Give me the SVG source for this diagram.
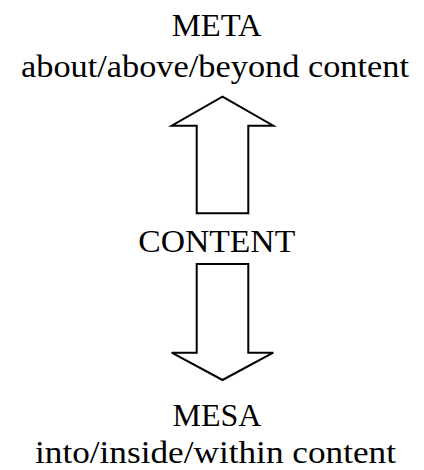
<svg xmlns="http://www.w3.org/2000/svg" width="424" height="470" viewBox="0 0 424 470">
<style>
text{font-family:"Liberation Serif","DejaVu Serif",serif;font-size:32px;fill:#000;text-anchor:middle}
.arrow{fill:#fff;stroke:#000;stroke-width:2;stroke-linejoin:miter}
</style>
<rect width="424" height="470" fill="#fff"/>
<g id="meta">
<text x="216.7" y="36" textLength="90" lengthAdjust="spacingAndGlyphs">META</text>
<text x="215" y="77" textLength="388" lengthAdjust="spacingAndGlyphs">about/above/beyond content</text>
</g>
<g id="content">
<text x="216.7" y="252" textLength="157" lengthAdjust="spacingAndGlyphs">CONTENT</text>
</g>
<g id="mesa">
<text x="217" y="426" textLength="89" lengthAdjust="spacingAndGlyphs">MESA</text>
<text x="215.5" y="463" textLength="361" lengthAdjust="spacingAndGlyphs">into/inside/within content</text>
</g>
<g id="connectors">
<path class="arrow" d="M222.5,96.7 L273.3,125.7 L248.3,125.7 L248.3,213.3 L196.7,213.3 L196.7,125.7 L171.7,125.7 Z"/>
<path class="arrow" d="M196.7,264 L248.3,264 L248.3,352.7 L273.3,352.7 L222.5,380 L171.7,352.7 L196.7,352.7 Z"/>
</g>
</svg>
